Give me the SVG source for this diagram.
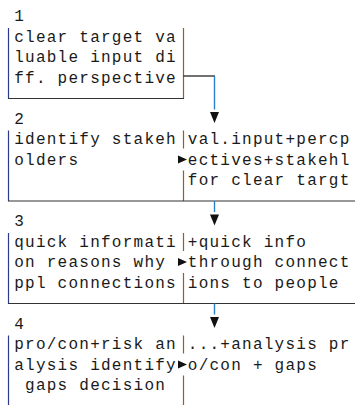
<svg xmlns="http://www.w3.org/2000/svg" width="355" height="405" viewBox="0 0 355 405">
<style>
  text { font-family: "Liberation Mono", "Courier New", monospace; font-size: 16px; letter-spacing: 1.25px; fill: #1a1a1a; }
  .lb { stroke: #2b3a8c; stroke-width: 1.2; fill: none; }
  .dv { stroke: #9a5a2a; stroke-width: 1.2; fill: none; }
  .bt { stroke: #333; stroke-width: 1.2; fill: none; }
  .cv { stroke: #2a7fc9; stroke-width: 1.4; fill: none; }
  .ch { stroke: #111; stroke-width: 1.2; fill: none; }
  .ah { fill: #111; }
</style>
<rect width="355" height="405" fill="#fff"/>

<g id="panel1">
  <text x="14.2" y="21">1</text>
  <text x="14.2" y="41.5">clear target va</text>
  <text x="14.2" y="62">luable input di</text>
  <text x="14.2" y="82.5">ff. perspective</text>
  <line class="lb" x1="8.5" y1="28" x2="8.5" y2="98.5"/>
  <line class="dv" x1="183.5" y1="28" x2="183.5" y2="98.5"/>
  <line class="bt" x1="8" y1="98.5" x2="184" y2="98.5"/>
</g>

<g id="panel2">
  <text x="14.2" y="123.5">2</text>
  <text x="14.2" y="144">identify stakeh</text>
  <text x="14.2" y="164.5">olders</text>
  <text x="187.8" y="144">val.input+percp</text>
  <text x="187.8" y="164.5">ectives+stakehl</text>
  <text x="187.8" y="185">for clear targt</text>
  <line class="lb" x1="8.5" y1="130.5" x2="8.5" y2="201"/>
  <line class="dv" x1="183.5" y1="130.5" x2="183.5" y2="148.5"/>
  <polygon class="ah" points="178,155.5 187,159.5 178,163.5"/>
  <line class="dv" x1="183.5" y1="170.5" x2="183.5" y2="201"/>
  <line class="bt" x1="8" y1="201" x2="355" y2="201"/>
</g>

<g id="panel3">
  <text x="14.2" y="226">3</text>
  <text x="14.2" y="246.5">quick informati</text>
  <text x="14.2" y="267">on reasons why</text>
  <text x="14.2" y="287.5">ppl connections</text>
  <text x="187.8" y="246.5">+quick info</text>
  <text x="187.8" y="267">through connect</text>
  <text x="187.8" y="287.5">ions to people</text>
  <line class="lb" x1="8.5" y1="233" x2="8.5" y2="303.5"/>
  <line class="dv" x1="183.5" y1="233" x2="183.5" y2="251"/>
  <polygon class="ah" points="178,258 187,262 178,266"/>
  <line class="dv" x1="183.5" y1="273" x2="183.5" y2="303.5"/>
  <line class="bt" x1="8" y1="303.5" x2="355" y2="303.5"/>
</g>

<g id="panel4">
  <text x="14.2" y="328.5">4</text>
  <text x="14.2" y="349">pro/con+risk an</text>
  <text x="14.2" y="369.5">alysis identify</text>
  <text x="25.05" y="390">gaps decision</text>
  <text x="187.8" y="349">...+analysis pr</text>
  <text x="187.8" y="369.5">o/con + gaps</text>
  <line class="lb" x1="8.5" y1="335.5" x2="8.5" y2="406"/>
  <line class="dv" x1="183.5" y1="335.5" x2="183.5" y2="353.5"/>
  <polygon class="ah" points="178,360.5 187,364.5 178,368.5"/>
  <line class="dv" x1="183.5" y1="375.5" x2="183.5" y2="406"/>
</g>

<g id="connectors">
  <line class="ch" x1="183.5" y1="76" x2="215" y2="76"/>
  <line class="cv" x1="214.5" y1="76" x2="214.5" y2="109.5"/>
  <polygon class="ah" points="210,112 219,112 214.5,123"/>
  <line class="cv" x1="214.5" y1="201" x2="214.5" y2="212"/>
  <polygon class="ah" points="210,214.5 219,214.5 214.5,225.5"/>
  <line class="cv" x1="214.5" y1="303.5" x2="214.5" y2="314.5"/>
  <polygon class="ah" points="210,317 219,317 214.5,328"/>
</g>
</svg>
